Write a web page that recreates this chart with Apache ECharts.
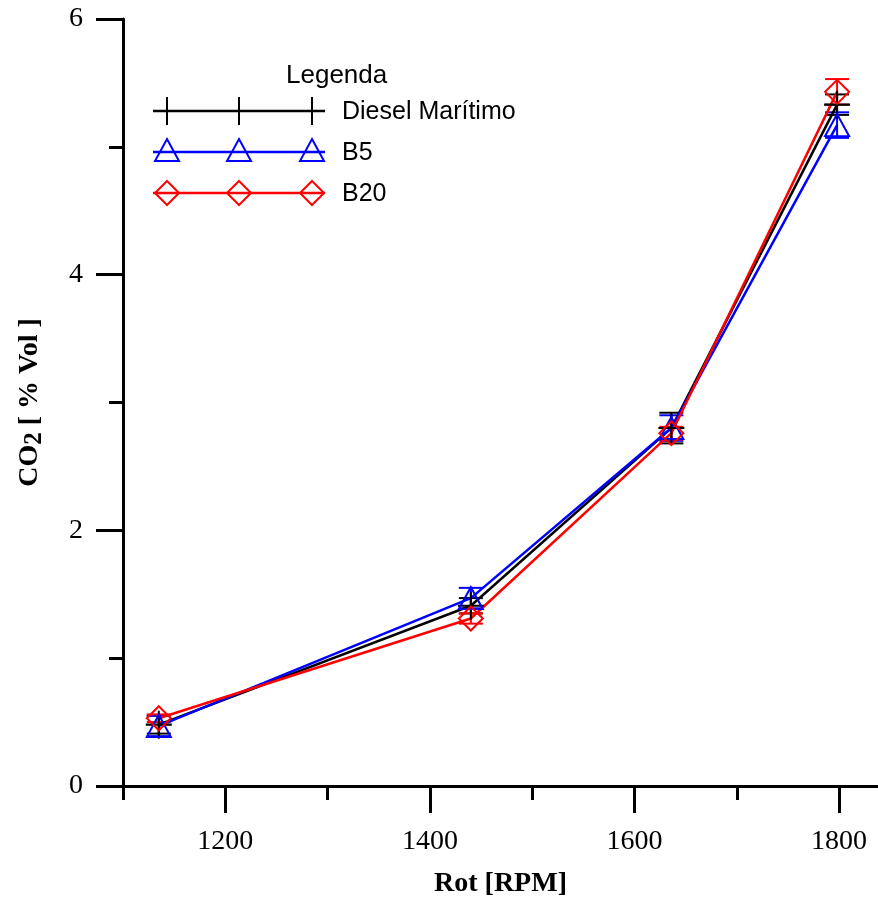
<!DOCTYPE html>
<html><head><meta charset="utf-8">
<script src="https://cdn.jsdelivr.net/npm/echarts@6/dist/echarts.min.js"></script>
<style>html,body{margin:0;padding:0;background:#fff}#c{width:878px;height:903px}</style>
</head><body><div id="c"></div>
<script>
const rpm = [1135, 1440, 1636, 1798];
const diesel = [0.48, 1.41, 2.80, 5.33];
const dieselErr = [0.07, 0.06, 0.12, 0.08];
const b5 = [0.47, 1.47, 2.80, 5.17];
const b5Err = [0.08, 0.08, 0.10, 0.10];
const b20 = [0.53, 1.31, 2.76, 5.43];
const b20Err = [0.03, 0.04, 0.05, 0.10];
const xMajorTicks = [1200, 1400, 1600, 1800];
const xMinorTicks = [1100, 1300, 1500, 1700];
const legendNames = ['Diesel Marítimo', 'B5', 'B20'];
const colors = ['#000000', '#0000ff', '#ff0000'];

const plusPath = 'path://M0,-10 L0,10 M-10,0 L10,0';
const triPath = 'path://M0,-10 L11.5,10 L-11.5,10 Z';
const diaPath = 'path://M0,-12 L12,0 L0,12 L-12,0 Z';
const symbols = [plusPath, triPath, diaPath];
const sizes = [[26, 28], [24, 22], [24, 24]];

const chart = echarts.init(document.getElementById('c'));
const serif = 'Liberation Serif';
const sans = 'Liberation Sans';

function pairs(ys) { return rpm.map((x, i) => [x, ys[i]]); }
function errData(ys, es) { return rpm.map((x, i) => [x, ys[i] - es[i], ys[i] + es[i]]); }

function errSeries(ys, es, color) {
  return {
    type: 'custom', xAxisIndex: 0, yAxisIndex: 0, z: 3,
    data: errData(ys, es),
    renderItem: function (params, api) {
      const lo = api.coord([api.value(0), api.value(1)]);
      const hi = api.coord([api.value(0), api.value(2)]);
      const w = 12;
      const st = { stroke: color, lineWidth: 2 };
      return { type: 'group', children: [
        { type: 'line', shape: { x1: lo[0], y1: lo[1], x2: hi[0], y2: hi[1] }, style: st },
        { type: 'line', shape: { x1: lo[0] - w, y1: lo[1], x2: lo[0] + w, y2: lo[1] }, style: st },
        { type: 'line', shape: { x1: hi[0] - w, y1: hi[1], x2: hi[0] + w, y2: hi[1] }, style: st }
      ]};
    }
  };
}

function lineSeries(name, ys, idx) {
  return {
    name: name, type: 'line', data: pairs(ys), z: 4,
    symbol: symbols[idx], symbolSize: sizes[idx],
    lineStyle: { color: colors[idx], width: 2.5 },
    itemStyle: { color: 'rgba(0,0,0,0)', borderColor: colors[idx], borderWidth: 2 },
    emphasis: { disabled: true }
  };
}

// legend drawn as graphics
const legendGraphics = [
  { type: 'text', left: 286, top: 63, style: { text: 'Legenda', font: '26px ' + sans, fill: '#000' } }
];
const rowY = [111, 152, 193];
const mx = [167, 239, 312];
legendNames.forEach((n, i) => {
  const y = rowY[i];
  legendGraphics.push({ type: 'line', shape: { x1: 153, y1: y, x2: 325, y2: y }, style: { stroke: colors[i], lineWidth: 2.5 } });
  mx.forEach(x => {
    if (i === 0) {
      legendGraphics.push({ type: 'line', shape: { x1: x, y1: y - 14, x2: x, y2: y + 14 }, style: { stroke: colors[i], lineWidth: 2 } });
      legendGraphics.push({ type: 'line', shape: { x1: x - 13, y1: y, x2: x + 13, y2: y }, style: { stroke: colors[i], lineWidth: 2 } });
    } else if (i === 1) {
      legendGraphics.push({ type: 'polygon', shape: { points: [[x, y - 13], [x + 12, y + 9], [x - 12, y + 9]] }, style: { fill: 'none', stroke: colors[i], lineWidth: 2 } });
    } else {
      legendGraphics.push({ type: 'polygon', shape: { points: [[x, y - 12], [x + 12, y], [x, y + 12], [x - 12, y]] }, style: { fill: 'none', stroke: colors[i], lineWidth: 2 } });
    }
  });
  legendGraphics.push({ type: 'text', left: 342, top: y - 11, style: { text: n, font: '25px ' + sans, fill: '#000' } });
});

const axisLine = { show: true, lineStyle: { color: '#000', width: 3 } };

chart.setOption({
  animation: false,
  backgroundColor: '#fff',
  grid: { left: 123, top: 19, right: 0, bottom: 117, containLabel: false },
  xAxis: [{
    type: 'value', min: 1100, max: 1838,
    axisLine: axisLine,
    splitLine: { show: false },
    axisTick: { show: true, length: 27, lineStyle: { width: 3, color: '#000' }, customValues: xMajorTicks },
    axisLabel: { customValues: xMajorTicks, margin: 42, fontFamily: serif, fontSize: 28, color: '#000', formatter: v => String(v) },
    name: 'Rot [RPM]', nameLocation: 'middle', nameGap: 84,
    nameTextStyle: { fontFamily: serif, fontSize: 28, fontWeight: 'bold', color: '#000' }
  }, {
    type: 'value', min: 1100, max: 1838, position: 'bottom',
    axisLine: { show: false },
    splitLine: { show: false },
    axisTick: { show: true, length: 14, lineStyle: { width: 3, color: '#000' }, customValues: xMinorTicks },
    axisLabel: { show: false }
  }],
  yAxis: [{
    type: 'value', min: 0, max: 6, interval: 2,
    axisLine: axisLine,
    splitLine: { show: false },
    axisTick: { show: true, length: 27, lineStyle: { width: 3, color: '#000' } },
    minorTick: { show: true, splitNumber: 2, length: 14, lineStyle: { width: 3, color: '#000' } },
    axisLabel: { margin: 40, fontFamily: serif, fontSize: 28, color: '#000' },
    name: '{a|CO}{b|2}{a| [ % Vol ]}', nameLocation: 'middle', nameGap: 76,
    nameTextStyle: {
      color: '#000',
      rich: {
        a: { fontFamily: serif, fontSize: 28, fontWeight: 'bold', color: '#000' },
        b: { fontFamily: serif, fontSize: 25, fontWeight: 'bold', color: '#000', padding: [10, 0, 0, 0] }
      }
    }
  }],
  graphic: legendGraphics,
  series: [
    errSeries(diesel, dieselErr, colors[0]),
    errSeries(b5, b5Err, colors[1]),
    errSeries(b20, b20Err, colors[2]),
    lineSeries(legendNames[0], diesel, 0),
    lineSeries(legendNames[1], b5, 1),
    lineSeries(legendNames[2], b20, 2)
  ]
});
</script></body></html>
